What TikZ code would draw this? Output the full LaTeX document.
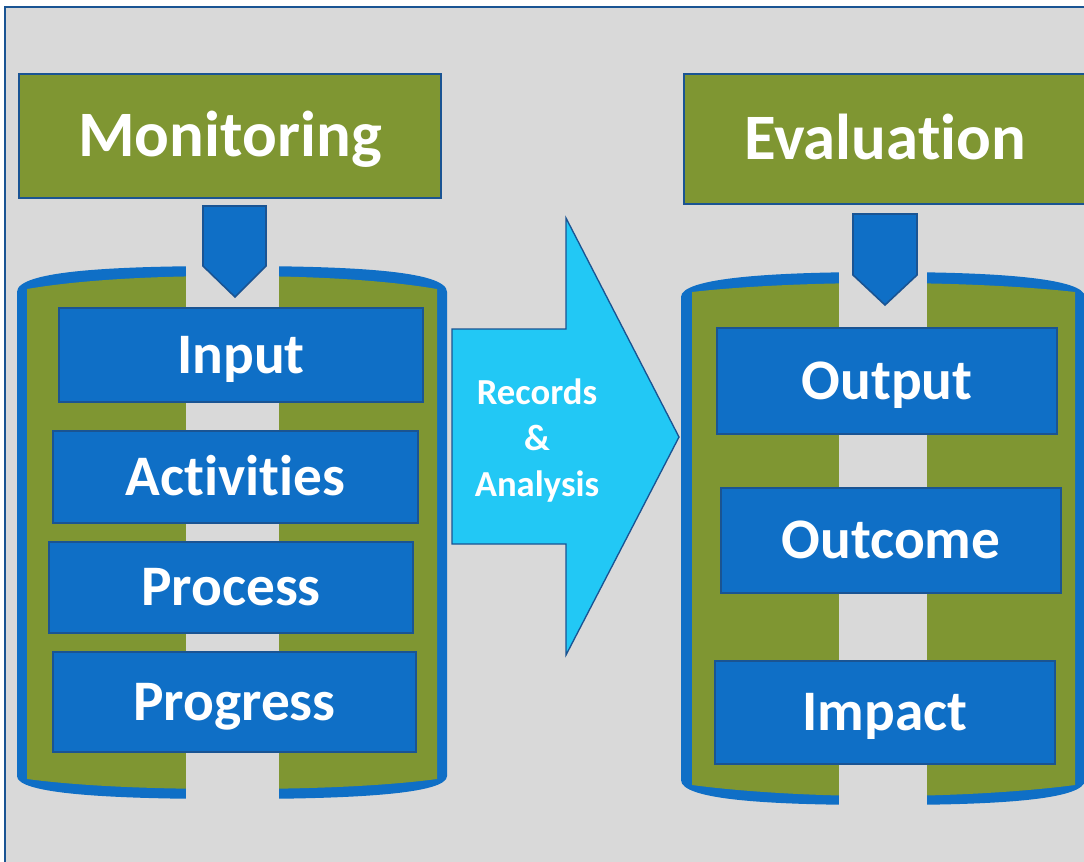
\documentclass[tikz,border=0pt]{standalone}
\usepackage{fontspec}
\setmainfont{Carlito}[Ligatures={NoCommon}]
\usetikzlibrary{fit}
\definecolor{bg}{HTML}{D9D9D9}
\definecolor{olive}{HTML}{7F9632}
\definecolor{mblue}{HTML}{0F6FC6}
\definecolor{dblue}{HTML}{1A5493}
\definecolor{cyanA}{HTML}{22C8F5}
\begin{document}
\begin{tikzpicture}[x=0.75pt,y=-0.75pt,
  titlebox/.style={draw=dblue,line width=1.5pt,fill=olive,inner sep=0pt},
  titletext/.style={text=white,inner sep=0pt,font=\bfseries\fontsize{48.6}{50}\selectfont,text height=30.7pt,text depth=0pt},
  itembox/.style={draw=dblue,line width=1.2pt,fill=mblue,inner sep=0pt},
  itemtext/.style={text=white,inner sep=0pt,font=\bfseries\fontsize{43}{45}\selectfont,text height=27.2pt,text depth=0pt},
  downarrow/.style={fill=mblue,draw=dblue,line width=1.2pt,line join=miter},
  bigarrow/.style={fill=cyanA,draw=dblue,line width=1pt,line join=miter},
  arrowtext/.style={text=white,font=\bfseries\fontsize{27.5}{34.5}\selectfont,align=center}]
\useasboundingbox (0,0) rectangle (1084,861);
\clip (0,0) rectangle (1084,861);
% frame
\fill[white] (0,0) rectangle (1084,861);
\draw[fill=bg,draw=dblue,line width=1.8pt] (5,7) rectangle (1100,880);

% left cylinder
\fill[mblue] (17,292) .. controls (17,271) and (110,266) .. (232,266)
  .. controls (354,266) and (447,271) .. (447,292) -- (447,776)
  .. controls (447,794) and (354,799) .. (232,799)
  .. controls (110,799) and (17,794) .. (17,776) -- cycle;
\fill[olive] (27,289) .. controls (80,280) and (150,276) .. (232,276)
  .. controls (314,276) and (384,280) .. (437,289) -- (437,779)
  .. controls (384,786) and (314,789) .. (232,789)
  .. controls (150,789) and (80,786) .. (27,779) -- cycle;
\fill[bg] (186,255) rectangle (279,810);

% right cylinder
\fill[mblue] (681,297) .. controls (681,278) and (770,272) .. (883,272)
  .. controls (996,272) and (1085,278) .. (1085,297) -- (1085,780)
  .. controls (1085,800) and (996,805) .. (883,805)
  .. controls (770,805) and (681,800) .. (681,780) -- cycle;
\fill[olive] (692,292) .. controls (745,286) and (815,283) .. (883,283)
  .. controls (951,283) and (1021,286) .. (1075,292) -- (1075,785)
  .. controls (1021,792) and (951,796) .. (883,796)
  .. controls (815,796) and (745,792) .. (692,785) -- cycle;
\fill[bg] (839,260) rectangle (927,815);

% titles
\node[titlebox,fit={(19,74) (441,198)}] (monitoring) {};
\node[titletext] (montext) at (monitoring.center) {Monitoring};
\node[titlebox,fit={(684,74) (1100,204)}] (evaluation) {};
\node[titletext] (evaltext) at (885,139) {Evaluation};

% down arrows
\draw[downarrow] (203,206) -- (266,206) -- (266,266) -- (235,297) -- (203,266) -- cycle;
\draw[downarrow] (853,214) -- (917,214) -- (917,275) -- (885,305) -- (853,275) -- cycle;

% left items
\node[itembox,fit={(59,308) (423,402)}] (input) {};
\node[itemtext] at (input.center) {Input};
\node[itembox,fit={(53,431) (418,523)}] (activities) {};
\node[itemtext] at (activities.center) {Activities};
\node[itembox,fit={(49,542) (413,633)}] (process) {};
\node[itemtext] at (process.center) {Process};
\node[itembox,fit={(53,652) (416,752)}] (progress) {};
\node[itemtext] at (progress.center) {Progress};

% right items
\node[itembox,fit={(717,328) (1057,434)}] (output) {};
\node[itemtext] at (output.center) {Output};
\node[itembox,fit={(721,488) (1061,593)}] (outcome) {};
\node[itemtext] at (outcome.center) {Outcome};
\node[itembox,fit={(715,661) (1055,764)}] (impact) {};
\node[itemtext] at (impact.center) {Impact};

% big arrow
\draw[bigarrow] (452,329) -- (566,329) -- (566,218) -- (679,437) -- (566,655) -- (566,544) -- (452,544) -- cycle;
\node[arrowtext] (records) at (537,441) {Records\\\&\\Analysis};
\end{tikzpicture}
\end{document}
